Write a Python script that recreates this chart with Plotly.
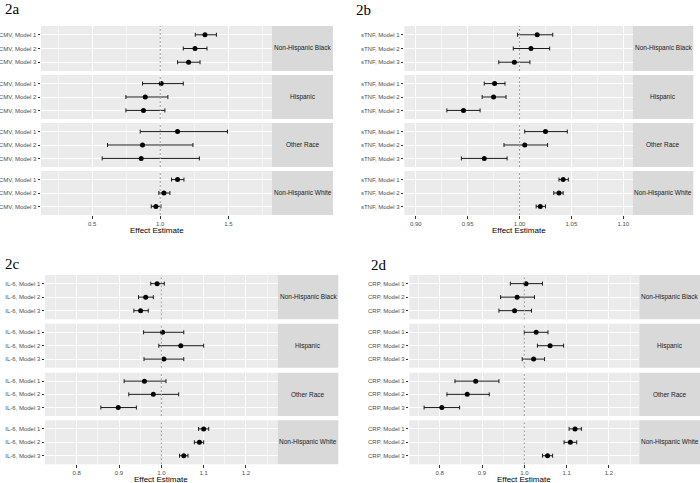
import plotly.graph_objects as go

# ---------------- data ----------------
groups = ["Non-Hispanic Black", "Hispanic", "Other Race", "Non-Hispanic White"]
models = ["Model 1", "Model 2", "Model 3"]

# CMV (2a) – order: group by group, Model 1..3
cmv_est = [1.328, 1.255, 1.208, 1.007, 0.890, 0.877, 1.127, 0.870, 0.860, 1.127, 1.027, 0.968]
cmv_lo  = [1.257, 1.169, 1.127, 0.870, 0.748, 0.748, 0.853, 0.613, 0.574, 1.083, 0.990, 0.934]
cmv_hi  = [1.412, 1.343, 1.292, 1.169, 1.056, 1.034, 1.493, 1.240, 1.287, 1.174, 1.071, 1.005]

# sTNF (2b)
stnf_est = [1.017, 1.011, 0.995, 0.976, 0.975, 0.946, 1.025, 1.005, 0.966, 1.042, 1.038, 1.020]
stnf_lo  = [0.998, 0.994, 0.980, 0.966, 0.964, 0.930, 1.005, 0.985, 0.944, 1.038, 1.033, 1.016]
stnf_hi  = [1.032, 1.029, 1.010, 0.986, 0.987, 0.962, 1.046, 1.027, 0.988, 1.047, 1.042, 1.025]

# IL-6 (2c)
il6_est = [0.990, 0.963, 0.951, 1.003, 1.046, 1.006, 0.960, 0.981, 0.898, 1.100, 1.090, 1.053]
il6_lo  = [0.975, 0.946, 0.935, 0.958, 0.994, 0.959, 0.912, 0.923, 0.857, 1.088, 1.078, 1.043]
il6_hi  = [1.007, 0.981, 0.969, 1.053, 1.100, 1.053, 1.011, 1.041, 0.941, 1.112, 1.100, 1.063]

# CRP (2d)
crp_est = [1.004, 0.983, 0.977, 1.028, 1.061, 1.022, 0.885, 0.865, 0.805, 1.120, 1.109, 1.055]
crp_lo  = [0.967, 0.944, 0.940, 1.000, 1.031, 0.995, 0.836, 0.817, 0.763, 1.106, 1.094, 1.043]
crp_hi  = [1.043, 1.024, 1.017, 1.056, 1.093, 1.048, 0.940, 0.917, 0.847, 1.135, 1.124, 1.067]

panel_titles = ["2a", "2b", "2c", "2d"]
markers_names = ["CMV", "sTNF", "IL-6", "CRP"]
x_tickvals = [
    [0.5, 1.0, 1.5],
    [0.90, 0.95, 1.00, 1.05, 1.10],
    [0.8, 0.9, 1.0, 1.1, 1.2],
    [0.8, 0.9, 1.0, 1.1, 1.2],
]
x_ticktext = [
    ["0.5", "1.0", "1.5"],
    ["0.90", "0.95", "1.00", "1.05", "1.10"],
    ["0.8", "0.9", "1.0", "1.1", "1.2"],
    ["0.8", "0.9", "1.0", "1.1", "1.2"],
]
x_title = "Effect Estimate"

# ---------------- layout geometry (pixels) ----------------
W, H = 700, 483
top_rows = ([26, 75, 123, 171], [71, 119, 167, 215])
bot_rows = ([275, 323.7, 372.7, 420.3], [319.3, 367.7, 416, 464.3])
geo = [
    dict(x0=41, x1=272, s1=333, rows=top_rows, xr=[0.125, 1.82], minor=0.25, tt=230.5, title=(3, 9)),
    dict(x0=404.3, x1=632.7, s1=693.3, rows=top_rows, xr=[0.889, 1.109], minor=0.025, tt=230.5, title=(354, 10)),
    dict(x0=45, x1=277.7, s1=338.3, rows=bot_rows, xr=[0.725, 1.275], minor=0.05, tt=479.5, title=(3, 264)),
    dict(x0=409.3, x1=639.3, s1=700, rows=bot_rows, xr=[0.728, 1.272], minor=0.05, tt=479.5, title=(369, 265)),
]
data = [
    (cmv_est, cmv_lo, cmv_hi),
    (stnf_est, stnf_lo, stnf_hi),
    (il6_est, il6_lo, il6_hi),
    (crp_est, crp_lo, crp_hi),
]

def px(x):
    return x / W

def py(y):
    return 1 - y / H

FONT = "Liberation Sans, Arial, sans-serif"
fig = go.Figure()
layout = dict(
    width=W, height=H, margin=dict(l=0, r=0, t=0, b=0),
    paper_bgcolor="white", plot_bgcolor="#ebebeb", showlegend=False,
    font=dict(family=FONT, size=7, color="#4d4d4d"),
)
shapes, annotations = [], []

for p in range(4):
    g = geo[p]
    est, lo, hi = data[p]
    for f in range(4):
        k = p * 4 + f + 1
        xa = "x" if k == 1 else f"x{k}"
        ya = "y" if k == 1 else f"y{k}"
        idx = slice(f * 3, f * 3 + 3)
        e = est[idx]
        l = lo[idx]
        h = hi[idx]
        ylabels = [f"{markers_names[p]}, {m}" for m in models]
        fig.add_trace(go.Scatter(
            x=e, y=[0, 1, 2], xaxis=xa, yaxis=ya, mode="markers",
            marker=dict(color="black", size=5),
            error_x=dict(type="data", symmetric=False,
                         array=[hh - ee for hh, ee in zip(h, e)],
                         arrayminus=[ee - ll for ll, ee in zip(l, e)],
                         color="#1a1a1a", thickness=1, width=2),
            hoverinfo="skip",
        ))
        ytop, ybot = g["rows"][0][f], g["rows"][1][f]
        bottom = f == 3
        layout["xaxis" if k == 1 else f"xaxis{k}"] = dict(
            domain=[px(g["x0"]), px(g["x1"])], anchor=ya, range=g["xr"],
            tickvals=x_tickvals[p], ticktext=x_ticktext[p],
            showticklabels=bottom, ticks="outside" if bottom else "",
            ticklen=2.5, tickcolor="#333333", tickfont=dict(size=6, color="#4d4d4d"),
            showgrid=True, gridcolor="white", gridwidth=1, zeroline=False, showline=False,
            minor=dict(dtick=g["minor"], tick0=0, showgrid=True, gridcolor="#f5f5f5", gridwidth=0.6, ticks=""),
        )
        layout["yaxis" if k == 1 else f"yaxis{k}"] = dict(
            domain=[py(ybot), py(ytop)], anchor=xa, range=[2.64, -0.64],
            tickvals=[0, 1, 2], ticktext=ylabels, ticks="outside", ticklen=2.5,
            tickcolor="#333333", tickfont=dict(size=6, color="#4d4d4d"),
            showgrid=True, gridcolor="white", gridwidth=1, zeroline=False, showline=False,
        )
        # reference line at 1
        shapes.append(dict(type="line", xref=xa, yref=f"{ya} domain", x0=1, x1=1, y0=0, y1=1,
                           line=dict(color="#9a9a9a", width=1, dash="2px,2px"), layer="above"))
        # strip
        shapes.append(dict(type="rect", xref="paper", yref="paper",
                           x0=px(g["x1"]), x1=px(g["s1"]), y0=py(ybot), y1=py(ytop),
                           fillcolor="#d9d9d9", line=dict(width=0), layer="below"))
        annotations.append(dict(text=groups[f], xref="paper", yref="paper",
                                x=px((g["x1"] + g["s1"]) / 2), y=py((ytop + ybot) / 2),
                                showarrow=False, font=dict(size=6.5, color="#1a1a1a"),
                                xanchor="center", yanchor="middle"))
    # axis title
    annotations.append(dict(text=x_title, xref="paper", yref="paper",
                            x=px((g["x0"] + g["x1"]) / 2), y=py(g["tt"]),
                            showarrow=False, font=dict(size=8, color="black"),
                            xanchor="center", yanchor="middle"))
    # panel label
    annotations.append(dict(text=panel_titles[p], xref="paper", yref="paper",
                            x=px(g["title"][0]), y=py(g["title"][1]),
                            showarrow=False, font=dict(size=15, color="black", family="Liberation Serif, Times New Roman, serif"),
                            xanchor="left", yanchor="middle"))

layout["shapes"] = shapes
layout["annotations"] = annotations
fig.update_layout(**layout)
fig.write_html("out.html", config={"displayModeBar": False},
               post_script="document.body.style.margin='0';document.body.style.overflow='hidden';")
